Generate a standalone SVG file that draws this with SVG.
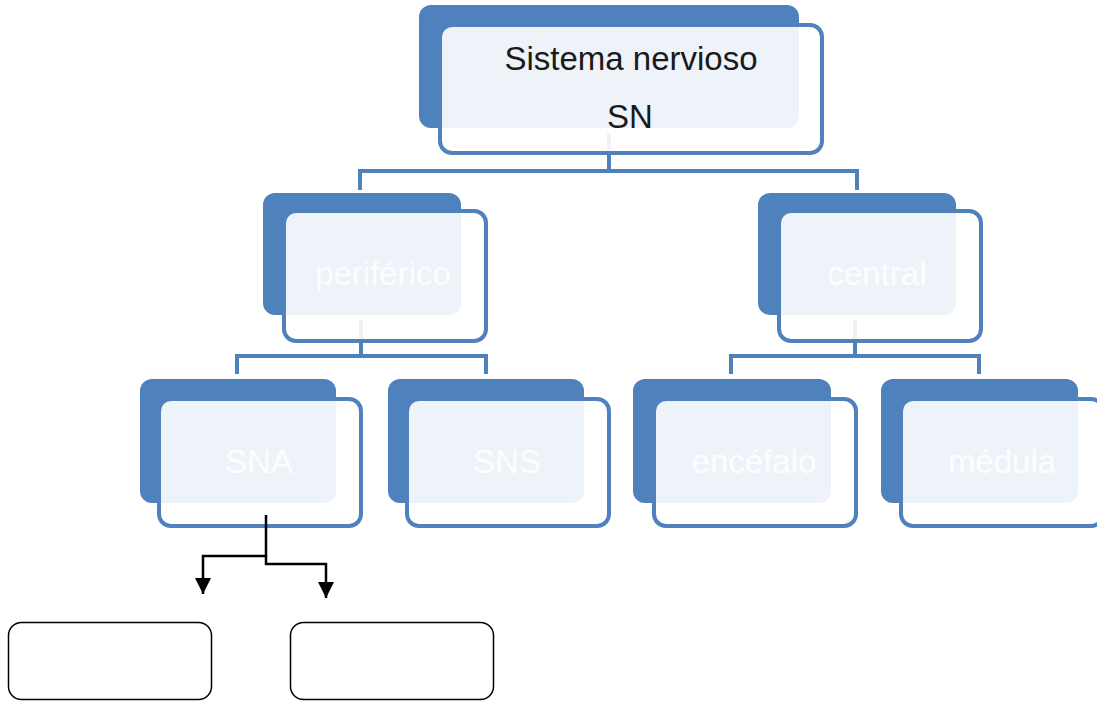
<svg xmlns="http://www.w3.org/2000/svg" width="1097" height="701" viewBox="0 0 1097 701">
<style>
.back{fill:#4F81BD}
.front{fill:#FFFFFF;fill-opacity:0.9;stroke:#4F81BD;stroke-width:4}
.conn{fill:none;stroke:#4F81BD;stroke-width:4}
.arr{fill:none;stroke:#000;stroke-width:2.5}
.lbl{font-family:"Liberation Sans",Arial,sans-serif;font-size:33px;text-anchor:middle;fill:#FFFFFF;fill-opacity:0.85}
.dark{fill:#1a1a1a;fill-opacity:1}
.empty{fill:#FFFFFF;stroke:#000;stroke-width:1.5}
</style>
<defs>
<marker id="ah" viewBox="0 0 16 16" refX="16" refY="8" markerWidth="16" markerHeight="16" markerUnits="userSpaceOnUse" orient="auto">
<path d="M0,0 L16,8 L0,16 Z" fill="#000"/>
</marker>
</defs>
<rect width="1097" height="701" fill="#FFFFFF"/>
<g id="connectors">
<path class="conn" d="M609,133 V171 M360,190 V171 H857 V190"/>
<path class="conn" d="M361,320 V356 M237,374 V356 H486 V374"/>
<path class="conn" d="M855,320 V356 M731,374 V356 H979 V374"/>
</g>
<g id="node-sn">
<rect class="back" x="419" y="5" width="380" height="123" rx="12"/>
<rect class="front" x="440" y="25" width="382" height="128" rx="12"/>
<text class="lbl dark" x="631" y="70">Sistema nervioso</text>
<text class="lbl dark" x="630" y="128">SN</text>
</g>
<g id="node-periferico">
<rect class="back" x="263" y="193" width="198" height="122" rx="12"/>
<rect class="front" x="284" y="211" width="202" height="130" rx="12"/>
<text class="lbl" x="383" y="285">periférico</text>
</g>
<g id="node-central">
<rect class="back" x="758" y="193" width="198" height="122" rx="12"/>
<rect class="front" x="779" y="211" width="202" height="130" rx="12"/>
<text class="lbl" x="877" y="285">central</text>
</g>
<g id="node-sna">
<rect class="back" x="140" y="379" width="196" height="124" rx="12"/>
<rect class="front" x="159" y="399" width="202" height="127" rx="12"/>
<text class="lbl" x="259" y="473">SNA</text>
</g>
<g id="node-sns">
<rect class="back" x="388" y="379" width="196" height="124" rx="12"/>
<rect class="front" x="407" y="399" width="202" height="127" rx="12"/>
<text class="lbl" x="507" y="473">SNS</text>
</g>
<g id="node-encefalo">
<rect class="back" x="633" y="379" width="198" height="124" rx="12"/>
<rect class="front" x="654" y="399" width="202" height="127" rx="12"/>
<text class="lbl" x="754" y="473">encéfalo</text>
</g>
<g id="node-medula">
<rect class="back" x="881" y="379" width="197" height="124" rx="12"/>
<rect class="front" x="901" y="399" width="202" height="127" rx="12"/>
<text class="lbl" x="1002" y="473">médula</text>
</g>
<g id="node-empty1">
<rect class="empty" x="8.5" y="622.5" width="203" height="77" rx="13"/>
</g>
<g id="node-empty2">
<rect class="empty" x="290.5" y="622.5" width="203" height="77" rx="13"/>
</g>
<g id="arrows">
<path class="arr" d="M266,515 V556 H203 V594" marker-end="url(#ah)"/>
<path class="arr" d="M266,556 V564 H326 V598" marker-end="url(#ah)"/>
</g>
</svg>
